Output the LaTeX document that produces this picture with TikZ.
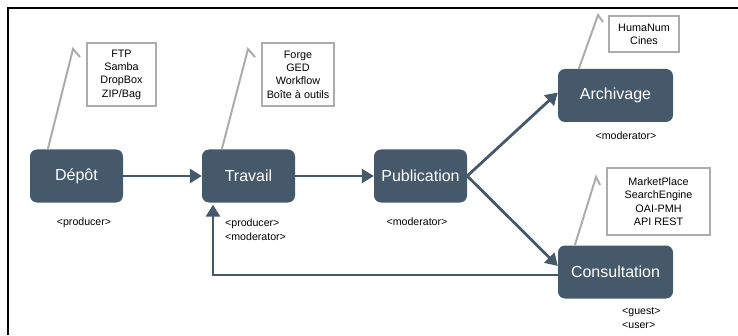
\documentclass[tikz,border=0pt]{standalone}
\usepackage{fontspec}
\setmainfont{Liberation Sans}
\usepackage{xcolor}
\usepackage{tikz}
\usetikzlibrary{arrows.meta,positioning,calc}

\definecolor{slate}{RGB}{69,89,106}
\definecolor{notegray}{RGB}{172,172,172}

\begin{document}
\begin{tikzpicture}[
  x=1pt, y=1pt,
  font=\fontsize{10.6}{13}\selectfont,
  >={Triangle[length=12pt,width=14pt]},
  stage/.style={fill=slate, rounded corners=7pt, text=white, minimum width=93pt, minimum height=53pt, inner sep=0pt, font=\fontsize{16}{19}\selectfont},
  widestage/.style={stage, minimum width=115pt},
  note/.style={draw=notegray, line width=2.6pt, align=center, inner sep=0pt, font=\fontsize{10.8}{13.3}\selectfont},
  role/.style={inner sep=0pt, align=left, font=\fontsize{10.6}{14}\selectfont},
  arr/.style={->, draw=slate, line width=2.8pt},
  pin/.style={draw=notegray, line width=2pt}
]
\useasboundingbox (0,0) rectangle (738,335);
\draw[line width=2.5pt] (8.2,0) -- (8.2,326.8) -- (738,326.8);

% workflow stages
\node[stage] (depot) at (76.5,159) {Dépôt};
\node[stage] (travail) at (248.5,159) {Travail};
\node[stage] (publication) at (420.5,159) {Publication};
\node[widestage] (archivage) at (615.5,239.5) {Archivage};
\node[widestage] (consultation) at (615.5,63) {Consultation};

% roles
\node[role] (depotrole) at (84,112) {<producer>};
\node[role, anchor=west] (travailrole) at (225,105) {<producer>\\<moderator>};
\node[role] (publicationrole) at (417,113) {<moderator>};
\node[role] (archivagerole) at (626,199) {<moderator>};
\node[role, anchor=west] (consultationrole) at (622,16.5) {<guest>\\<user>};

% tools
\node[note, minimum width=69pt, minimum height=63pt] (depotnote) at (121.5,260.5) {FTP\\Samba\\DropBox\\ZIP/Bag};
\node[note, minimum width=72pt, minimum height=63pt] (travailnote) at (298,260.5) {Forge\\GED\\Workflow\\Boîte à outils};
\node[note, minimum width=70pt, minimum height=36pt] (archivagenote) at (644,301) {HumaNum\\Cines};
\node[note, minimum width=103pt, minimum height=67pt] (consultationnote) at (658.5,133.5) {MarketPlace\\SearchEngine\\OAI-PMH\\API REST};

\coordinate (depottip) at (73,286);
\coordinate (travailtip) at (248,286);
\coordinate (archivagetip) at (598,320);
\coordinate (consultationtip) at (596,158);

\draw[pin] ([xshift=18pt]depot.north west) -- (depottip) -- ++(7,-8);
\draw[pin] ([xshift=20pt]travail.north west) -- (travailtip) -- ++(7,-8);
\draw[pin] ([xshift=21pt]archivage.north west) -- (archivagetip) -- ++(5,-7);
\draw[pin] ([xshift=17pt]consultation.north west) -- (consultationtip) -- ++(4,-8);

% flow
\draw[arr] (depot) -- (travail);
\draw[arr] (travail) -- (publication);
\draw[arr] (publication.east) -- ([yshift=3pt]archivage.west);
\draw[arr] (publication.east) -- ([yshift=6pt]consultation.west);
\draw[arr, shorten >=2pt] ([yshift=-3pt]consultation.west) -| ([xshift=-35.5pt]travail.south);
\end{tikzpicture}
\end{document}
